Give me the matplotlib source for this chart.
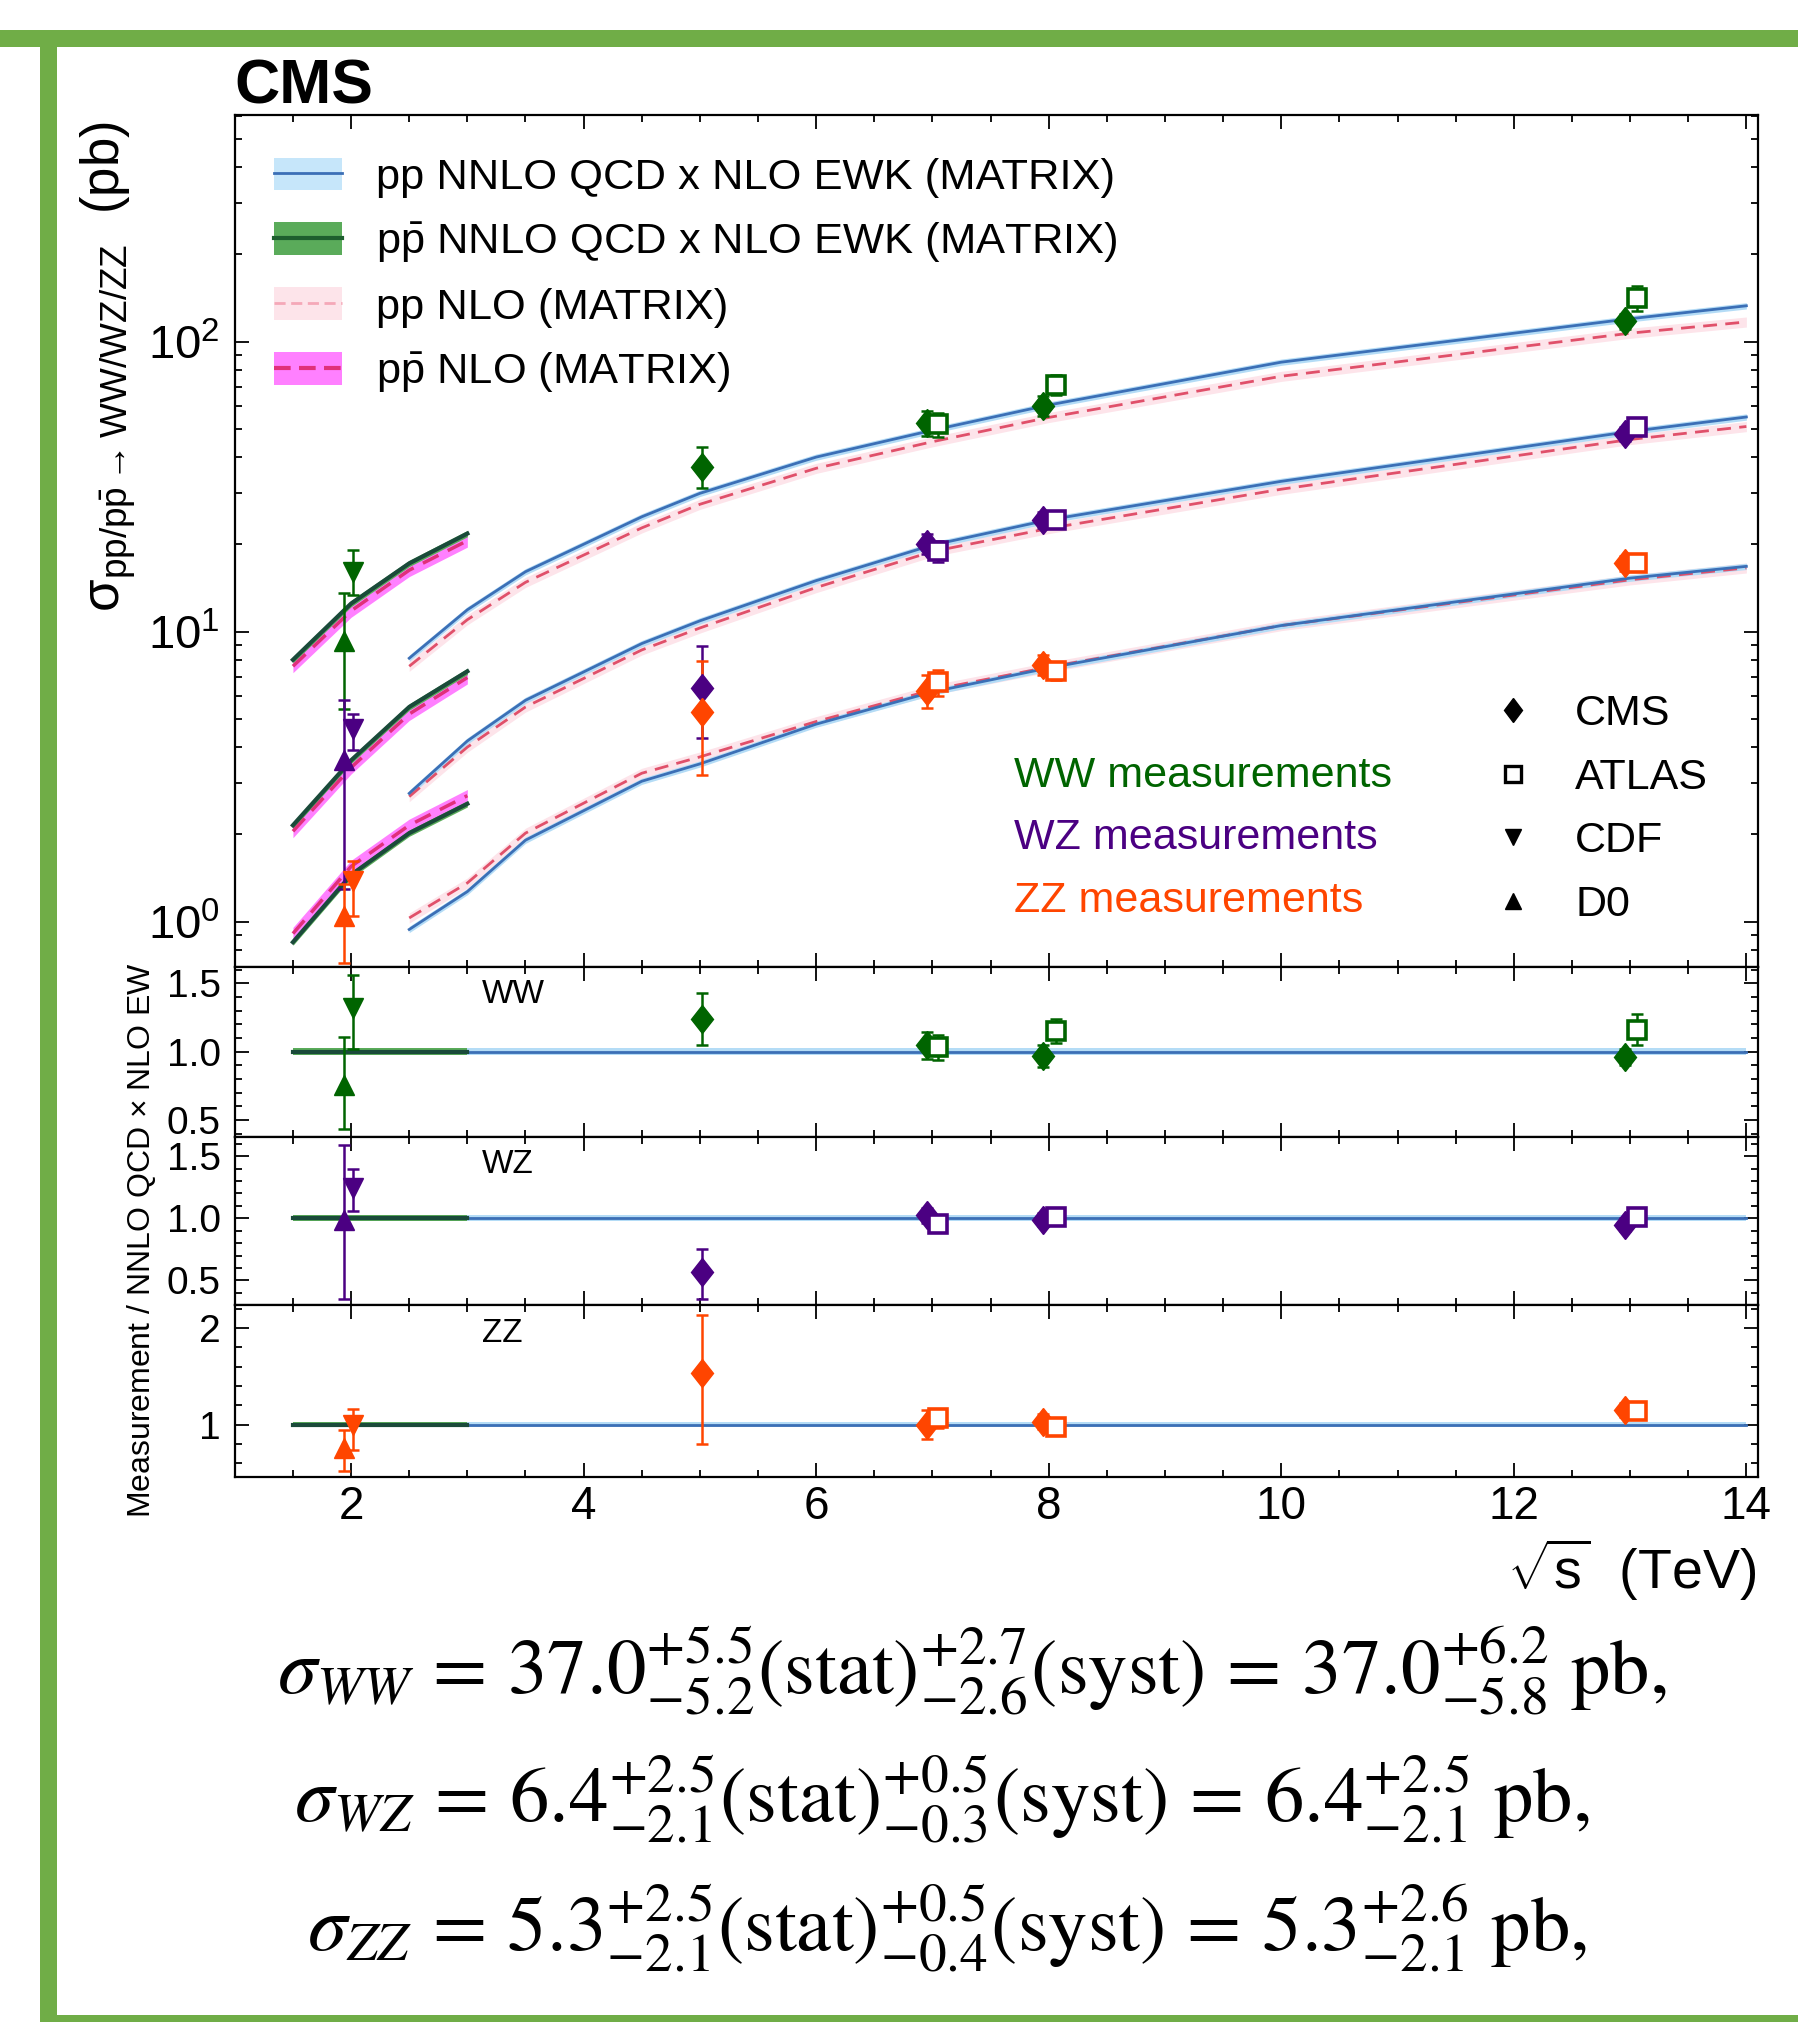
#!/usr/bin/env python3

import numpy as np
import matplotlib
matplotlib.use("Agg")
import matplotlib.pyplot as plt
from matplotlib.lines import Line2D
from matplotlib.patches import Patch, Rectangle
from matplotlib.markers import MarkerStyle
from matplotlib.transforms import Affine2D
from matplotlib.ticker import MultipleLocator, LogLocator, NullFormatter, FormatStrFormatter

plt.rcParams["font.family"] = ["Liberation Sans", "DejaVu Sans"]
plt.rcParams["mathtext.fontset"] = "custom"
plt.rcParams["mathtext.rm"] = "Liberation Sans"
plt.rcParams["mathtext.it"] = "Liberation Sans:italic"
plt.rcParams["mathtext.bf"] = "Liberation Sans:bold"

# theory, pp (LHC energies)
pp_x = [2.5, 3.0, 3.5, 4.5, 5.0, 6.0, 7.0, 8.0, 10.0, 13.0, 14.0]
ww_pp_nnlo = [8.1, 11.9, 16.1, 24.9, 30.0, 40.0, 49.5, 60.5, 85.0, 120.0, 133.0]
ww_pp_nlo = [7.6, 11.0, 14.8, 22.8, 27.5, 36.6, 45.2, 54.8, 76.0, 107.0, 117.0]
wz_pp_nnlo = [2.77, 4.2, 5.8, 9.1, 10.9, 15.0, 19.9, 24.3, 33.0, 49.0, 55.0]
wz_pp_nlo = [2.70, 4.0, 5.5, 8.65, 10.3, 14.2, 18.9, 22.7, 31.0, 46.0, 51.0]
zz_pp_nnlo = [0.94, 1.27, 1.91, 3.05, 3.5, 4.8, 6.2, 7.5, 10.5, 15.3, 16.8]
zz_pp_nlo = [1.03, 1.36, 2.02, 3.25, 3.7, 4.9, 6.3, 7.55, 10.5, 15.1, 16.6]

# theory, ppbar (Tevatron-like energies)
ppbar_x = [1.5, 2.0, 2.5, 3.0]
ww_ppbar_nnlo = [8.0, 12.5, 17.2, 21.8]
ww_ppbar_nlo = [7.6, 11.8, 16.3, 20.6]
wz_ppbar_nnlo = [2.15, 3.6, 5.5, 7.3]
wz_ppbar_nlo = [2.05, 3.4, 5.2, 6.95]
zz_ppbar_nnlo = [0.85, 1.45, 2.02, 2.55]
zz_ppbar_nlo = [0.91, 1.55, 2.15, 2.72]

# relative half widths of the theory bands
unc_pp_nnlo = 0.025
unc_ppbar_nnlo = 0.025
unc_pp_nlo = 0.04
unc_ppbar_nlo = 0.05

# measurement positions
x_d0 = [1.94]
x_cdf = [2.02]
x_cms = [5.02, 6.95, 7.95, 12.96]
x_atlas = [7.05, 8.06, 13.06]

# WW measurements (pb)
ww_d0, ww_d0_dn, ww_d0_up = [9.3], [3.9], [4.3]
ww_cdf, ww_cdf_dn, ww_cdf_up = [16.0], [2.6], [3.1]
ww_cms = [37.0, 52.4, 60.1, 117.6]
ww_cms_dn = [5.8, 5.1, 4.8, 6.8]
ww_cms_up = [6.2, 5.1, 4.8, 6.8]
ww_atlas = [51.9, 71.1, 142.0]
ww_atlas_err = [4.9, 5.6, 14.0]

# WZ measurements (pb)
wz_d0, wz_d0_dn, wz_d0_up = [3.6], [2.3], [2.2]
wz_cdf, wz_cdf_dn, wz_cdf_up = [4.6], [0.7], [0.6]
wz_cms = [6.4, 20.1, 24.3, 48.1]
wz_cms_dn = [2.1, 1.6, 1.5, 2.6]
wz_cms_up = [2.5, 1.6, 1.5, 2.6]
wz_atlas = [19.0, 24.3, 50.6]
wz_atlas_err = [1.6, 1.0, 2.6]

# ZZ measurements (pb)
zz_d0, zz_d0_dn, zz_d0_up = [1.05], [0.33], [0.30]
zz_cdf, zz_cdf_dn, zz_cdf_up = [1.38], [0.33], [0.24]
zz_cms = [5.3, 6.24, 7.7, 17.2]
zz_cms_dn = [2.1, 0.8, 0.6, 1.0]
zz_cms_up = [2.6, 0.86, 0.6, 1.0]
zz_atlas = [6.7, 7.3, 17.3]
zz_atlas_err = [0.7, 0.5, 1.0]

# ratio to NNLO QCD x NLO EW
ww_d0_r, ww_d0_r_dn, ww_d0_r_up = [0.756], [0.32], [0.35]
ww_cdf_r, ww_cdf_r_dn, ww_cdf_r_up = [1.32], [0.30], [0.24]
ww_cms_r = [1.24, 1.045, 0.97, 0.96]
ww_cms_r_dn = [0.195, 0.10, 0.08, 0.06]
ww_cms_r_up = [0.19, 0.10, 0.08, 0.06]
ww_atlas_r = [1.03, 1.15, 1.16]
ww_atlas_r_err = [0.09, 0.09, 0.115]

wz_d0_r, wz_d0_r_dn, wz_d0_r_up = [0.99], [0.635], [0.60]
wz_cdf_r, wz_cdf_r_dn, wz_cdf_r_up = [1.24], [0.185], [0.16]
wz_cms_r = [0.572, 1.024, 0.99, 0.95]
wz_cms_r_dn = [0.217, 0.06, 0.05, 0.05]
wz_cms_r_up = [0.183, 0.06, 0.05, 0.05]
wz_atlas_r = [0.957, 1.007, 1.007]
wz_atlas_r_err = [0.06, 0.04, 0.05]

zz_d0_r, zz_d0_r_dn, zz_d0_r_up = [0.758], [0.24], [0.19]
zz_cdf_r, zz_cdf_r_dn, zz_cdf_r_up = [0.995], [0.26], [0.17]
zz_cms_r = [1.533, 1.0, 1.03, 1.15]
zz_cms_r_dn = [0.73, 0.15, 0.08, 0.07]
zz_cms_r_up = [0.60, 0.15, 0.08, 0.07]
zz_atlas_r = [1.063, 0.977, 1.137]
zz_atlas_r_err = [0.10, 0.06, 0.06]

C_WW = "#006400"
C_WZ = "#4b0082"
C_ZZ = "#ff4500"

BLUE_BAND = "#b4dcf6"
BLUE_LINE = "#3b6fb6"
GREEN_BAND = "#5aab5a"
GREEN_LINE = "#1a4a3a"
PINK_BAND = "#fde4ea"
PINK_LINE = "#e0506a"
MAG_BAND = "#ff80ff"
MAG_LINE = "#e0307a"

DIAMOND = MarkerStyle("D", transform=Affine2D().scale(0.8, 1.0))

W, H = 1799, 2022


def fx(px):
    return px / W


def fy(py):
    return 1 - py / H


def style_axes(ax):
    ax.tick_params(which="both", direction="in", top=True, right=True,
                   width=1.3, labelsize=32, pad=11)
    ax.tick_params(which="major", length=10)
    ax.tick_params(which="minor", length=5)
    for s in ax.spines.values():
        s.set_linewidth(1.6)
    ax.xaxis.set_major_locator(MultipleLocator(2))
    ax.xaxis.set_minor_locator(MultipleLocator(0.5))
    ax.set_xlim(1.0, 14.1)


def theory(ax, x, nnlo, nlo, u_nnlo, u_nlo, nnlo_band, nnlo_line, nlo_band,
           nlo_line, lw_nnlo, lw_nlo):
    nnlo = np.array(nnlo)
    nlo = np.array(nlo)
    ax.fill_between(x, nlo * (1 - u_nlo), nlo * (1 + u_nlo), color=nlo_band,
                    lw=0, zorder=1)
    ax.fill_between(x, nnlo * (1 - u_nnlo), nnlo * (1 + u_nnlo),
                    color=nnlo_band, lw=0, zorder=1.5)
    ax.plot(x, nlo, color=nlo_line, lw=lw_nlo, ls=(0, (5, 3)), zorder=2)
    ax.plot(x, nnlo, color=nnlo_line, lw=lw_nnlo, zorder=2.5)


def points(ax, x, y, dn, up, color, marker, ms=14, hollow=False):
    ax.errorbar(x, y, yerr=[dn, up], fmt="none", ecolor=color, elinewidth=1.8,
                capsize=4, capthick=1.8, zorder=5)
    ax.plot(x, y, ls="none", marker=marker, ms=ms, color=color,
            mfc="white" if hollow else color, mew=2.6 if hollow else 1,
            zorder=6)


fig = plt.figure(figsize=(W / 100, H / 100), dpi=100)

left, right = 234.8, 1758
ax = fig.add_axes([fx(left), fy(966.6), (right - left) / W, (966.6 - 115) / H])
ax_ww = fig.add_axes([fx(left), fy(1136.8), (right - left) / W, (1136.8 - 966.6) / H])
ax_wz = fig.add_axes([fx(left), fy(1305), (right - left) / W, (1305 - 1136.8) / H])
ax_zz = fig.add_axes([fx(left), fy(1476.6), (right - left) / W, (1476.6 - 1305) / H])

for a in (ax, ax_ww, ax_wz, ax_zz):
    style_axes(a)

# main panel
ax.set_yscale("log")
ax.set_ylim(0.70, 605)
ax.yaxis.set_major_locator(LogLocator(base=10, numticks=10))
ax.yaxis.set_minor_locator(LogLocator(base=10, subs=np.arange(2, 10), numticks=20))
ax.yaxis.set_minor_formatter(NullFormatter())
ax.tick_params(axis="y", labelsize=34)
ax.tick_params(labelbottom=False)

for nnlo, nlo in ((ww_pp_nnlo, ww_pp_nlo), (wz_pp_nnlo, wz_pp_nlo), (zz_pp_nnlo, zz_pp_nlo)):
    theory(ax, pp_x, nnlo, nlo, unc_pp_nnlo, unc_pp_nlo, BLUE_BAND, BLUE_LINE,
           PINK_BAND, PINK_LINE, 2.0, 2.0)
for nnlo, nlo in ((ww_ppbar_nnlo, ww_ppbar_nlo), (wz_ppbar_nnlo, wz_ppbar_nlo),
                  (zz_ppbar_nnlo, zz_ppbar_nlo)):
    theory(ax, ppbar_x, nnlo, nlo, unc_ppbar_nnlo, unc_ppbar_nlo, GREEN_BAND,
           GREEN_LINE, MAG_BAND, MAG_LINE, 3.0, 2.5)

points(ax, x_d0, ww_d0, ww_d0_dn, ww_d0_up, C_WW, "^")
points(ax, x_cdf, ww_cdf, ww_cdf_dn, ww_cdf_up, C_WW, "v")
points(ax, x_cms, ww_cms, ww_cms_dn, ww_cms_up, C_WW, DIAMOND)
points(ax, x_atlas, ww_atlas, ww_atlas_err, ww_atlas_err, C_WW, "s", 13, True)
points(ax, x_d0, wz_d0, wz_d0_dn, wz_d0_up, C_WZ, "^")
points(ax, x_cdf, wz_cdf, wz_cdf_dn, wz_cdf_up, C_WZ, "v")
points(ax, x_cms, wz_cms, wz_cms_dn, wz_cms_up, C_WZ, DIAMOND)
points(ax, x_atlas, wz_atlas, wz_atlas_err, wz_atlas_err, C_WZ, "s", 13, True)
points(ax, x_d0, zz_d0, zz_d0_dn, zz_d0_up, C_ZZ, "^")
points(ax, x_cdf, zz_cdf, zz_cdf_dn, zz_cdf_up, C_ZZ, "v")
points(ax, x_cms, zz_cms, zz_cms_dn, zz_cms_up, C_ZZ, DIAMOND)
points(ax, x_atlas, zz_atlas, zz_atlas_err, zz_atlas_err, C_ZZ, "s", 13, True)

# theory legend
th_handles = [
    (Patch(facecolor="#c6e6fa", edgecolor="none"), Line2D([], [], color=BLUE_LINE, lw=2)),
    (Patch(facecolor=GREEN_BAND, edgecolor="none"), Line2D([], [], color="#1d5e2e", lw=3)),
    (Patch(facecolor=PINK_BAND, edgecolor="none"), Line2D([], [], color="#f5a8b8", lw=2, ls=(0, (4, 2)))),
    (Patch(facecolor=MAG_BAND, edgecolor="none"), Line2D([], [], color=MAG_LINE, lw=3, ls=(0, (4, 2)))),
]
th_labels = [
    "pp NNLO QCD x NLO EWK (MATRIX)",
    r"p$\bar{\mathrm{p}}$ NNLO QCD x NLO EWK (MATRIX)",
    "pp NLO (MATRIX)",
    r"p$\bar{\mathrm{p}}$ NLO (MATRIX)",
]
leg1 = ax.legend(th_handles, th_labels, loc="upper left", bbox_to_anchor=(0.026, 0.950),
                 frameon=False, fontsize=31.3, handlelength=1.55, handleheight=0.78,
                 labelspacing=0.52, handletextpad=0.78, borderaxespad=0, borderpad=0)
ax.add_artist(leg1)

# experiment legend
exp_handles = [
    Line2D([], [], ls="none", marker=DIAMOND, ms=12, color="k"),
    Line2D([], [], ls="none", marker="s", ms=11, color="k", mfc="white", mew=2.4),
    Line2D([], [], ls="none", marker="v", ms=12, color="k"),
    Line2D([], [], ls="none", marker="^", ms=12, color="k"),
]
exp_labels = ["CMS", "ATLAS", "CDF", "D0"]
leg2 = ax.legend(exp_handles, exp_labels, loc="upper left", bbox_to_anchor=(0.822, 0.320),
                 frameon=False, fontsize=31, handlelength=1.2, labelspacing=0.55,
                 handletextpad=0.85, borderaxespad=0, borderpad=0)

for txt, col, yy in (("WW measurements", C_WW, 776), ("WZ measurements", C_WZ, 838),
                     ("ZZ measurements", C_ZZ, 901)):
    ax.text((1013.6 - left) / (right - left), 1 - (yy - 115) / (966.6 - 115), txt,
            color=col, fontsize=31, ha="left", va="center", transform=ax.transAxes)

# ratio panels
ratio_sets = (
    (ax_ww, "WW", ww_pp_nnlo, ww_ppbar_nnlo, C_WW,
     (ww_d0_r, ww_d0_r_dn, ww_d0_r_up), (ww_cdf_r, ww_cdf_r_dn, ww_cdf_r_up),
     (ww_cms_r, ww_cms_r_dn, ww_cms_r_up), (ww_atlas_r, ww_atlas_r_err, ww_atlas_r_err),
     (0.376, 1.622)),
    (ax_wz, "WZ", wz_pp_nnlo, wz_ppbar_nnlo, C_WZ,
     (wz_d0_r, wz_d0_r_dn, wz_d0_r_up), (wz_cdf_r, wz_cdf_r_dn, wz_cdf_r_up),
     (wz_cms_r, wz_cms_r_dn, wz_cms_r_up), (wz_atlas_r, wz_atlas_r_err, wz_atlas_r_err),
     (0.303, 1.655)),
    (ax_zz, "ZZ", zz_pp_nnlo, zz_ppbar_nnlo, C_ZZ,
     (zz_d0_r, zz_d0_r_dn, zz_d0_r_up), (zz_cdf_r, zz_cdf_r_dn, zz_cdf_r_up),
     (zz_cms_r, zz_cms_r_dn, zz_cms_r_up), (zz_atlas_r, zz_atlas_r_err, zz_atlas_r_err),
     (0.46, 2.24)),
)

for a, name, pp_nnlo, ppbar_nnlo, col, d0, cdf, cms, atlas, ylim in ratio_sets:
    r_pp = np.array(pp_nnlo) / np.array(pp_nnlo)
    r_ppbar = np.array(ppbar_nnlo) / np.array(ppbar_nnlo)
    a.fill_between(pp_x, r_pp * (1 - unc_pp_nnlo), r_pp * (1 + unc_pp_nnlo),
                   color=BLUE_BAND, lw=0, zorder=1)
    a.fill_between(ppbar_x, r_ppbar * (1 - unc_ppbar_nnlo), r_ppbar * (1 + unc_ppbar_nnlo),
                   color=GREEN_BAND, lw=0, zorder=1.5)
    a.plot(pp_x, r_pp, color=BLUE_LINE, lw=2, zorder=2)
    a.plot(ppbar_x, r_ppbar, color=GREEN_LINE, lw=3, zorder=2.5)
    points(a, x_d0, *d0, col, "^")
    points(a, x_cdf, *cdf, col, "v")
    points(a, x_cms, *cms, col, DIAMOND)
    points(a, x_atlas, *atlas, col, "s", 13, True)
    a.set_ylim(*ylim)
    a.text(0.1623, 0.835, name, transform=a.transAxes, fontsize=24, ha="left", va="center")
    a.tick_params(axis="y", labelsize=28, pad=10)

for a in (ax_ww, ax_wz):
    a.yaxis.set_major_locator(MultipleLocator(0.5))
    a.yaxis.set_minor_locator(MultipleLocator(0.1))
    a.yaxis.set_major_formatter(FormatStrFormatter("%.1f"))
    a.tick_params(labelbottom=False)
ax_zz.yaxis.set_major_locator(MultipleLocator(1))
ax_zz.yaxis.set_minor_locator(MultipleLocator(0.2))
ax_zz.yaxis.set_major_formatter(FormatStrFormatter("%d"))
ax_zz.tick_params(axis="x", labelsize=33, pad=6)

# labels
fig.text(fx(234.8), fy(103), "CMS", fontsize=45, fontweight="bold", ha="left", va="baseline")
fig.text(fx(108), fy(121), r"$\mathrm{\sigma}_{\mathrm{pp/p\bar{p}\rightarrow WW/WZ/ZZ}}$  (pb)",
         rotation=90, ha="center", va="top", fontsize=38)
fig.text(fx(142), fy(1240), r"Measurement / NNLO QCD $\times$ NLO EW", rotation=90,
         ha="center", va="center", fontsize=23)
fig.text(fx(1756), fy(1570), r"$\sqrt{\mathrm{s}}$  (TeV)", ha="right", va="center", fontsize=40)

eqs = (
    (277, 1670, r"$\sigma_{WW}\,=\,37.0^{+5.5}_{-5.2}(\mathrm{stat})^{+2.7}_{-2.6}(\mathrm{syst})\,=\,37.0^{+6.2}_{-5.8}\ \mathrm{pb},$"),
    (294, 1799, r"$\sigma_{WZ}\,=\,6.4^{+2.5}_{-2.1}(\mathrm{stat})^{+0.5}_{-0.3}(\mathrm{syst})\,=\,6.4^{+2.5}_{-2.1}\ \mathrm{pb},$"),
    (307, 1928, r"$\sigma_{ZZ}\,=\,5.3^{+2.5}_{-2.1}(\mathrm{stat})^{+0.5}_{-0.4}(\mathrm{syst})\,=\,5.3^{+2.6}_{-2.1}\ \mathrm{pb},$"),
)
for px, py, s in eqs:
    fig.text(fx(px), fy(py), s, fontsize=56.8, ha="left", va="center", math_fontfamily="stix")

# green frame
frame = "#70ad47"
fig.add_artist(Rectangle((0, fy(47)), 1, 17 / H, transform=fig.transFigure, color=frame, lw=0))
fig.add_artist(Rectangle((fx(40), 0), 17 / W, fy(30), transform=fig.transFigure, color=frame, lw=0))
fig.add_artist(Rectangle((fx(40), 0), 1, 7 / H, transform=fig.transFigure, color=frame, lw=0))

fig.savefig("out.png", dpi=100)
